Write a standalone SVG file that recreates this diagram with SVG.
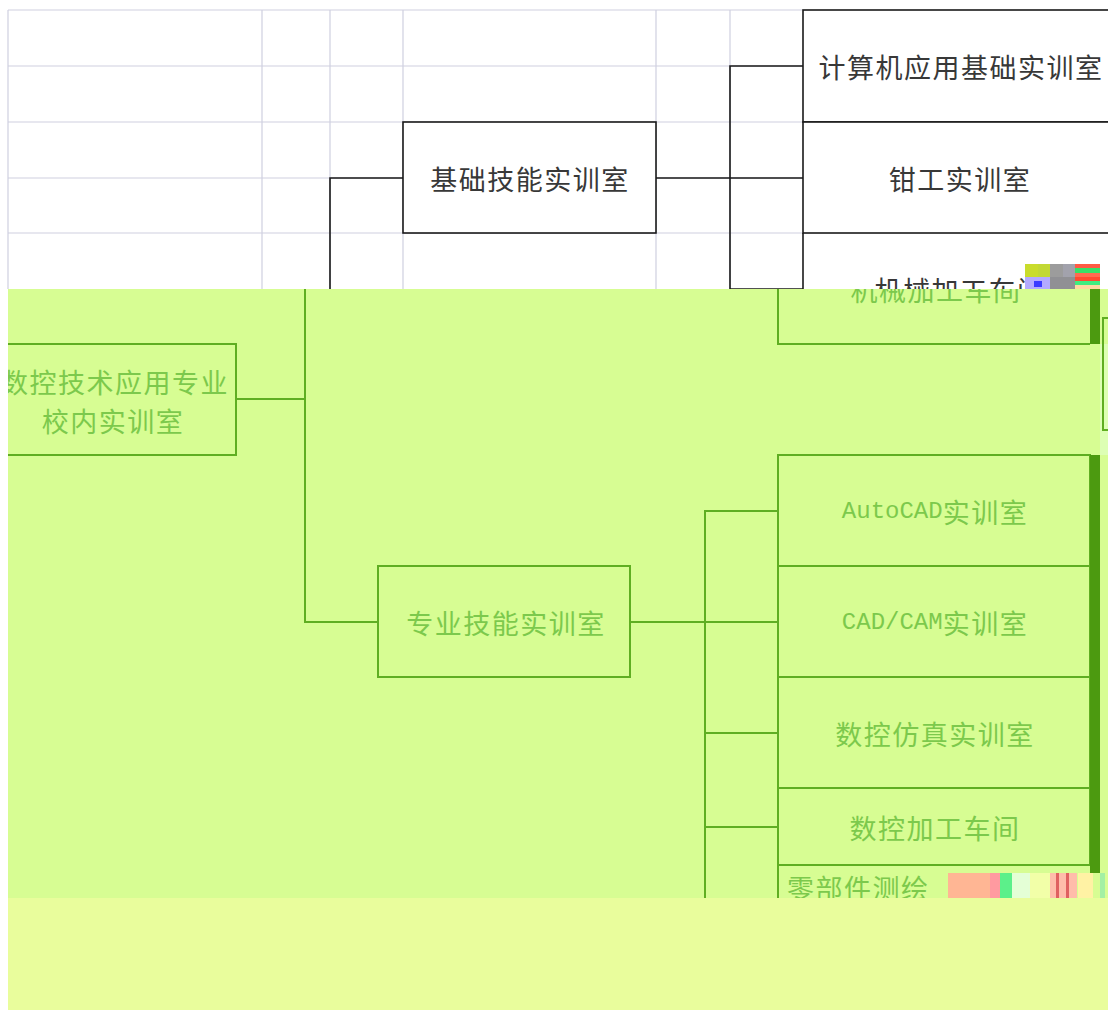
<svg xmlns="http://www.w3.org/2000/svg" width="1108" height="1011" viewBox="0 0 1108 1011">
<defs>
<style>
.grid{stroke:#cfd0e0;stroke-width:1.2;fill:none}
.bk{stroke:#1a1a1a;stroke-width:1.6;fill:none}
.bkbox{stroke:#1a1a1a;stroke-width:1.6;fill:#fff}
.gl{stroke:#5fae22;stroke-width:2;fill:none}
.bar{fill:#4c9a10}
.t{font-family:"Noto Sans CJK SC","Noto Sans",sans-serif;font-size:27px;letter-spacing:1.5px;text-anchor:middle;dominant-baseline:central}
.tb{fill:#383838}
.tg{fill:#7cc94c}
.m{font-family:"Liberation Mono","Noto Sans CJK SC",monospace;font-size:24px;letter-spacing:0px}
</style>
<clipPath id="topClip"><rect x="0" y="0" width="1108" height="289"/></clipPath>
<clipPath id="greenClip"><rect x="8" y="289" width="1100" height="609"/></clipPath>
</defs>
<rect width="1108" height="1011" fill="#fff"/>

<g id="grid" class="grid">
<path d="M8 10H803M8 66H803M8 122H803M8 178H803M8 233H803"/>
<path d="M8 10V289M262 10V289M330 10V289M403 10V289M656 10V289M730 10V289"/>
</g>

<g id="node-jichu">
<rect class="bkbox" x="403" y="122" width="253" height="111"/>
<text class="t tb" x="530" y="178">基础技能实训室</text>
</g>
<g id="node-jisuanji">
<rect class="bkbox" x="803" y="10" width="320" height="112"/>
<text class="t tb" x="961" y="66">计算机应用基础实训室</text>
</g>
<g id="node-qiangong">
<rect class="bkbox" x="803" y="122" width="320" height="111"/>
<text class="t tb" x="960" y="178">钳工实训室</text>
</g>
<g id="node-jixie-top" clip-path="url(#topClip)">
<path class="bk" d="M803 233V289"/>
<text class="t tb" x="960" y="289">机械加工车间</text>
</g>

<g id="connectors-top" class="bk">
<path d="M330 289V178H403"/>
<path d="M656 178H803"/>
<path d="M803 66H730V289H803"/>
</g>

<rect id="green-band" x="8" y="289" width="1100" height="609" fill="#d7fd93"/>
<rect x="1100" y="344" width="8" height="111" fill="#ddffb4"/>

<g clip-path="url(#greenClip)">
<g id="node-root">
<rect class="gl" x="-20" y="344" width="256" height="111"/>
<text class="t tg" x="115" y="381">数控技术应用专业</text>
<text class="t tg" x="113" y="420">校内实训室</text>
</g>
<g id="node-jixie">
<path class="gl" d="M778 289V344H1090"/>
<rect class="bar" x="1090" y="289" width="10" height="55"/>
<text class="t tg" x="936" y="289">机械加工车间</text>
</g>
<g id="node-right-partial">
<path class="gl" d="M1110 318H1103V430H1110"/>
</g>
<g id="node-zhuanye">
<rect class="gl" x="378" y="566" width="252" height="111"/>
<text class="t tg" x="506" y="622">专业技能实训室</text>
</g>
<g id="node-autocad">
<rect class="gl" x="778" y="455" width="312" height="111"/>
<text class="t tg" x="935" y="511"><tspan class="m">AutoCAD</tspan>实训室</text>
</g>
<g id="node-cadcam">
<rect class="gl" x="778" y="566" width="312" height="111"/>
<text class="t tg" x="935" y="622"><tspan class="m">CAD/CAM</tspan>实训室</text>
</g>
<g id="node-fangzhen">
<rect class="gl" x="778" y="677" width="312" height="111"/>
<text class="t tg" x="935" y="733">数控仿真实训室</text>
</g>
<g id="node-jiagong">
<rect class="gl" x="778" y="788" width="312" height="77"/>
<text class="t tg" x="935" y="827">数控加工车间</text>
</g>
<g id="node-lingbujian">
<path class="gl" d="M778 865V900M778 865H1090"/>
<text class="t tg" x="787" y="887" style="text-anchor:start">零部件测绘</text>
</g>
<rect class="bar" x="1090" y="455" width="10" height="418"/>
<g id="connectors-green" class="gl">
<path d="M236 399H305"/>
<path d="M305 289V622H378"/>
<path d="M630 622H705"/>
<path d="M705 900V511H778"/>
<path d="M705 622H778"/>
<path d="M705 733H778"/>
<path d="M705 827H778"/>
</g>
</g>

<rect id="bottom-band" x="8" y="898" width="1100" height="112" fill="#e9fd9c"/>

<g id="noise-top">
<rect x="1025" y="264" width="13" height="13" fill="#c9dc2c"/>
<rect x="1038" y="264" width="12" height="13" fill="#c2d834"/>
<rect x="1050" y="264" width="13" height="13" fill="#9c9c9c"/>
<rect x="1063" y="264" width="12" height="13" fill="#a2a2ac"/>
<rect x="1075" y="264" width="25" height="4" fill="#ff5a44"/>
<rect x="1075" y="268" width="25" height="5" fill="#36e068"/>
<rect x="1075" y="273" width="25" height="4" fill="#ff6a50"/>
<rect x="1025" y="277" width="25" height="12" fill="#b3aaff"/>
<rect x="1034" y="281" width="8" height="6" fill="#3a3aff"/>
<rect x="1050" y="277" width="25" height="12" fill="#909094"/>
<rect x="1075" y="277" width="25" height="4" fill="#ff4a30"/>
<rect x="1075" y="281" width="25" height="4" fill="#40ec80"/>
<rect x="1075" y="285" width="25" height="4" fill="#ffd8a0"/>
</g>
<g id="noise-bottom">
<rect x="948" y="873" width="42" height="25" fill="#ffb694"/>
<rect x="990" y="873" width="10" height="25" fill="#ff9aa0"/>
<rect x="1000" y="873" width="12" height="25" fill="#5cf08a"/>
<rect x="1012" y="873" width="18" height="25" fill="#e4ffd6"/>
<rect x="1030" y="873" width="20" height="25" fill="#f2ffa8"/>
<rect x="1050" y="873" width="27" height="25" fill="#ffbcaa"/>
<rect x="1056" y="873" width="3" height="25" fill="#e06060"/>
<rect x="1066" y="873" width="3" height="25" fill="#e06060"/>
<rect x="1078" y="873" width="15" height="25" fill="#fff2a4"/>
<rect x="1100" y="873" width="5" height="25" fill="#a4f0a4"/>
</g>
</svg>
